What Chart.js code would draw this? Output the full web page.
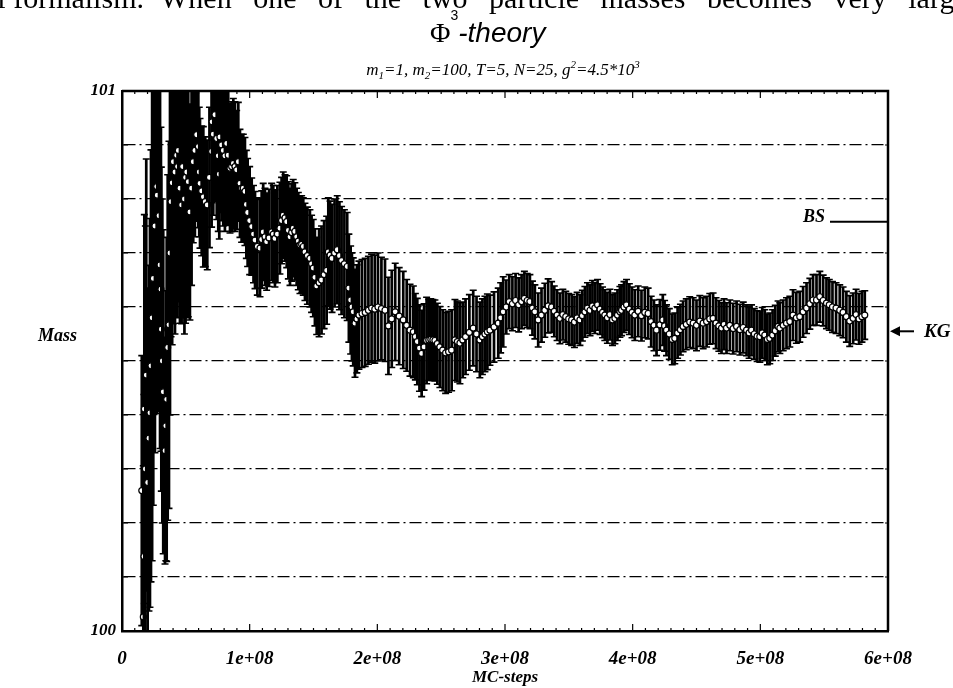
<!doctype html>
<html lang="en">
<head>
<meta charset="utf-8">
<title>Phi^3-theory: Mass vs MC-steps</title>
<script src="https://cdn.jsdelivr.net/npm/chart.js@4.4.0/dist/chart.umd.min.js"></script>
<style>
  html, body { margin: 0; padding: 0; background: #fff; overflow: hidden; }
  #wrap { position: relative; width: 953px; height: 688px; }
  #chart { position: absolute; left: 0; top: 0; }
  .txt { position: absolute; white-space: nowrap; color: #000; }
  .scan { top: -19px; font: 30px 'Liberation Serif', serif; }
  #scan1 { left: -16px; }
  #scan2 { left: 160px; word-spacing: 14px; }
  #title { left: 430px; top: 17px; }
  #title .phi { font: 28px 'Liberation Serif', serif; }
  #title sup { font: 14px 'Liberation Sans', sans-serif; vertical-align: baseline; position: relative; top: -22px; }
  #title .th { font: italic 28px 'Liberation Sans', sans-serif; }
  #sub { left: 0; width: 1006px; text-align: center; top: 58px; font: italic 17px 'Liberation Serif', serif; }
  #sub sub, #sub sup { font-size: 11px; }
  #mass { left: 38px; top: 325px; font: italic bold 18px 'Liberation Serif', serif; }
</style>
</head>
<body>
<div id="wrap">
  <canvas id="chart" width="953" height="688"></canvas>
  <div class="txt scan" id="scan1">al formalism.</div>
  <div class="txt scan" id="scan2">When one of the two particle masses becomes very large</div>
  <div class="txt" id="title"><span class="phi">&Phi;</span><sup>3</sup><span class="th">-theory</span></div>
  <div class="txt" id="sub">m<sub>1</sub>=1, m<sub>2</sub>=100, T=5, N=25, g<sup>2</sup>=4.5*10<sup>3</sup></div>
  <div class="txt" id="mass">Mass</div>
</div>

<script>
// MC steps (in units of 1e6)
var mcSteps = [
  15.5, 16.7, 17.2, 17.5, 18.3, 19.0, 20.1, 21.1, 21.9, 22.7,
  23.6, 24.5, 25.8, 27.2, 27.6, 29.0, 29.8, 30.5, 30.8, 31.6,
  32.3, 33.7, 34.3, 35.0, 35.8, 36.8, 37.6, 38.4, 39.3, 40.2,
  41.5, 42.8, 43.5, 44.1, 45.4, 46.7, 47.5, 48.9, 49.8, 50.7,
  51.9, 53.2, 54.5, 55.8, 57.1, 58.5, 59.8, 60.5, 61.1, 62.4,
  63.7, 65.2, 66.8, 68.5, 70.2, 70.6, 71.5, 72.8, 74.2, 75.4,
  76.2, 76.7, 78.0, 79.3, 80.6, 82.0, 83.2, 84.6, 85.9, 87.2,
  88.5, 89.8, 91.1, 92.4, 93.7, 95.0, 96.3, 97.4, 98.4, 100.0,
  101.6, 103.0, 104.2, 106.0, 108.1, 109.4, 110.6, 112.0, 113.3, 115.2,
  117.2, 118.5, 119.8, 121.7, 123.7, 125.0, 126.3, 127.7, 129.0, 130.3,
  131.6, 132.9, 134.1, 135.4, 136.8, 138.1, 139.4, 140.7, 142.0, 143.3,
  145.2, 147.2, 148.5, 149.8, 151.1, 152.5, 154.4, 156.3, 158.3, 160.3,
  161.6, 163.0, 164.5, 166.5, 168.6, 170.3, 172.0, 174.2, 176.4, 177.7,
  179.1, 180.1, 181.1, 182.5, 184.0, 185.6, 188.0, 190.5, 193.0, 195.5,
  198.0, 200.5, 203.2, 206.0, 208.7, 211.3, 214.0, 217.1, 220.3, 223.0,
  225.6, 228.2, 229.8, 231.3, 233.0, 234.7, 236.6, 238.6, 240.3, 241.9,
  243.5, 245.1, 247.0, 249.0, 251.2, 253.5, 255.8, 258.2, 260.8, 262.7,
  264.7, 266.9, 269.1, 272.1, 275.1, 277.7, 280.3, 282.3, 284.3, 286.2,
  288.2, 291.4, 294.7, 296.6, 298.6, 301.0, 303.3, 305.8, 308.3, 310.7,
  313.0, 315.2, 317.4, 319.5, 321.5, 323.4, 326.0, 328.6, 331.2, 333.8,
  336.5, 338.6, 340.8, 343.0, 345.3, 347.6, 349.9, 352.2, 354.4, 356.5,
  358.7, 360.6, 362.6, 364.6, 366.6, 368.5, 370.4, 372.5, 374.5, 376.4,
  378.2, 380.2, 382.2, 384.2, 386.1, 388.1, 390.0, 391.3, 393.2, 395.2,
  397.4, 399.5, 401.7, 404.3, 406.9, 409.5, 412.1, 414.5, 416.7, 418.7,
  421.3, 423.6, 425.0, 426.5, 428.7, 431.0, 433.0, 435.2, 437.4, 439.5,
  442.0, 444.7, 447.4, 450.0, 452.6, 455.2, 457.9, 460.4, 463.0, 465.3,
  467.5, 469.6, 471.6, 473.5, 476.1, 478.7, 481.4, 484.0, 486.6, 489.2,
  491.2, 493.1, 495.3, 497.5, 499.6, 501.5, 503.5, 505.5, 507.4, 509.6,
  511.7, 513.9, 515.3, 517.9, 520.5, 523.1, 525.6, 528.2, 530.9, 533.5,
  536.2, 538.8, 541.3, 544.0, 546.6, 549.2, 551.8, 554.0, 556.5, 559.3,
  562.2, 564.8, 567.4, 570.0, 572.7, 575.0, 577.3, 579.6, 581.8];

// mass estimate per MC step
var mass = [
  100.260, 100.026, 100.138, 100.411, 100.300, 100.474, 100.275, 100.357, 100.404, 100.491,
  100.580, 100.653, 100.750, 100.823, 100.807, 100.769, 100.678, 100.633, 100.559, 100.500,
  100.443, 100.334, 100.380, 100.429, 100.525, 100.567, 100.700, 100.795, 100.830, 100.869,
  100.850, 100.881, 100.860, 100.890, 100.820, 100.789, 100.860, 100.800, 100.840, 100.850,
  100.832, 100.776, 100.820, 100.869, 100.890, 100.919, 100.897, 100.850, 100.829, 100.815,
  100.804, 100.795, 100.789, 100.840, 100.888, 100.943, 100.920, 100.956, 100.912, 100.880,
  100.846, 100.915, 100.900, 100.890, 100.880, 100.903, 100.881, 100.857, 100.860, 100.866,
  100.860, 100.854, 100.869, 100.829, 100.820, 100.820, 100.814, 100.790, 100.775, 100.760,
  100.749, 100.735, 100.724, 100.712, 100.709, 100.725, 100.739, 100.730, 100.721, 100.728,
  100.739, 100.735, 100.727, 100.735, 100.746, 100.760, 100.770, 100.765, 100.758, 100.742,
  100.730, 100.738, 100.746, 100.740, 100.730, 100.722, 100.715, 100.716, 100.712, 100.702,
  100.695, 100.690, 100.680, 100.672, 100.655, 100.639, 100.645, 100.650, 100.660, 100.668,
  100.702, 100.696, 100.690, 100.700, 100.706, 100.695, 100.686, 100.680, 100.675, 100.635,
  100.613, 100.600, 100.591, 100.570, 100.578, 100.585, 100.588, 100.590, 100.594, 100.598,
  100.596, 100.600, 100.597, 100.594, 100.565, 100.578, 100.591, 100.583, 100.576, 100.566,
  100.557, 100.554, 100.545, 100.536, 100.524, 100.514, 100.526, 100.538, 100.539, 100.540,
  100.539, 100.538, 100.532, 100.526, 100.520, 100.515, 100.517, 100.520, 100.539, 100.536,
  100.533, 100.539, 100.545, 100.553, 100.561, 100.550, 100.539, 100.545, 100.550, 100.554,
  100.557, 100.563, 100.570, 100.580, 100.591, 100.600, 100.610, 100.606, 100.612, 100.604,
  100.610, 100.616, 100.612, 100.610, 100.598, 100.591, 100.576, 100.585, 100.594, 100.602,
  100.600, 100.592, 100.585, 100.579, 100.586, 100.582, 100.578, 100.576, 100.572, 100.580,
  100.576, 100.584, 100.591, 100.598, 100.594, 100.602, 100.598, 100.604, 100.596, 100.590,
  100.585, 100.580, 100.586, 100.576, 100.579, 100.585, 100.591, 100.594, 100.600, 100.604,
  100.596, 100.590, 100.585, 100.592, 100.584, 100.590, 100.588, 100.573, 100.566, 100.557,
  100.567, 100.576, 100.565, 100.557, 100.550, 100.540, 100.542, 100.552, 100.558, 100.564,
  100.568, 100.572, 100.570, 100.566, 100.574, 100.570, 100.573, 100.578, 100.579, 100.570,
  100.565, 100.561, 100.568, 100.561, 100.566, 100.560, 100.564, 100.558, 100.562, 100.557,
  100.552, 100.557, 100.550, 100.546, 100.545, 100.552, 100.548, 100.540, 100.542, 100.548,
  100.556, 100.564, 100.561, 100.566, 100.570, 100.573, 100.585, 100.580, 100.582, 100.591,
  100.598, 100.606, 100.613, 100.613, 100.619, 100.612, 100.607, 100.604, 100.600, 100.598,
  100.594, 100.590, 100.582, 100.574, 100.579, 100.586, 100.578, 100.582, 100.585];

// half length of each error bar
var massErr = [
  0.25, 0.28, 0.30, 0.36, 0.45, 0.40, 0.36, 0.32, 0.36, 0.40,
  0.45, 0.42, 0.42, 0.42, 0.40, 0.36, 0.34, 0.30, 0.30, 0.30,
  0.30, 0.21, 0.25, 0.30, 0.32, 0.34, 0.30, 0.25, 0.30, 0.30,
  0.30, 0.30, 0.28, 0.28, 0.25, 0.22, 0.28, 0.25, 0.27, 0.27,
  0.25, 0.20, 0.18, 0.15, 0.16, 0.16, 0.15, 0.12, 0.12, 0.12,
  0.13, 0.12, 0.12, 0.13, 0.14, 0.15, 0.15, 0.16, 0.15, 0.14,
  0.12, 0.14, 0.14, 0.14, 0.14, 0.15, 0.13, 0.12, 0.12, 0.12,
  0.12, 0.11, 0.11, 0.10, 0.10, 0.10, 0.10, 0.10, 0.10, 0.10,
  0.09, 0.09, 0.09, 0.09, 0.09, 0.09, 0.09, 0.09, 0.09, 0.09,
  0.09, 0.09, 0.09, 0.09, 0.085, 0.08, 0.08, 0.08, 0.085, 0.09,
  0.09, 0.09, 0.09, 0.09, 0.09, 0.09, 0.09, 0.09, 0.09, 0.09,
  0.09, 0.09, 0.09, 0.09, 0.09, 0.09, 0.10, 0.10, 0.10, 0.10,
  0.10, 0.10, 0.10, 0.10, 0.10, 0.10, 0.10, 0.10, 0.10, 0.10,
  0.10, 0.10, 0.10, 0.10, 0.10, 0.10, 0.10, 0.10, 0.10, 0.10,
  0.10, 0.10, 0.095, 0.095, 0.09, 0.09, 0.09, 0.09, 0.09, 0.085,
  0.085, 0.085, 0.08, 0.08, 0.08, 0.08, 0.08, 0.08, 0.075, 0.075,
  0.075, 0.075, 0.075, 0.075, 0.075, 0.075, 0.075, 0.075, 0.075, 0.075,
  0.075, 0.07, 0.07, 0.07, 0.07, 0.07, 0.07, 0.07, 0.07, 0.07,
  0.065, 0.065, 0.065, 0.065, 0.065, 0.05, 0.05, 0.05, 0.05, 0.05,
  0.05, 0.05, 0.05, 0.05, 0.05, 0.05, 0.05, 0.05, 0.05, 0.05,
  0.047, 0.047, 0.047, 0.047, 0.047, 0.047, 0.047, 0.047, 0.047, 0.047,
  0.047, 0.047, 0.047, 0.047, 0.047, 0.047, 0.047, 0.047, 0.047, 0.047,
  0.047, 0.047, 0.047, 0.047, 0.047, 0.047, 0.047, 0.047, 0.047, 0.047,
  0.047, 0.047, 0.047, 0.047, 0.047, 0.047, 0.047, 0.047, 0.047, 0.047,
  0.047, 0.047, 0.047, 0.047, 0.047, 0.047, 0.047, 0.047, 0.047, 0.047,
  0.047, 0.047, 0.047, 0.047, 0.047, 0.047, 0.047, 0.047, 0.047, 0.047,
  0.047, 0.047, 0.047, 0.047, 0.047, 0.047, 0.047, 0.047, 0.047, 0.047,
  0.047, 0.047, 0.047, 0.047, 0.047, 0.047, 0.047, 0.047, 0.047, 0.047,
  0.047, 0.047, 0.047, 0.047, 0.047, 0.047, 0.047, 0.047, 0.047, 0.047,
  0.047, 0.047, 0.047, 0.047, 0.047, 0.047, 0.047, 0.047, 0.047, 0.047,
  0.047, 0.047, 0.047, 0.047, 0.047, 0.047, 0.047, 0.047, 0.045];

// reference levels marked at the right edge
var bsMass = 100.758;
var kgMass = 100.555;

var points = mcSteps.map(function (s, i) { return { x: s * 1e6, y: mass[i] }; });

var tickFont = { family: 'Liberation Serif', size: 17, style: 'italic', weight: 'bold' };

// each point: its error bar first, then its circle (later bars overlap earlier circles)
var errorBars = {
  id: 'errorBars',
  beforeDatasetDraw: function (chart, args) {
    var ctx = chart.ctx, a = chart.chartArea, x = chart.scales.x, y = chart.scales.y;
    var pts = args.meta.data;
    ctx.save();
    ctx.beginPath();
    ctx.rect(a.left, a.top, a.right - a.left, a.bottom - a.top);
    ctx.clip();
    for (var i = 0; i < mcSteps.length; i++) {
      var px = x.getPixelForValue(mcSteps[i] * 1e6);
      var lo = y.getPixelForValue(mass[i] - massErr[i]);
      var hi = y.getPixelForValue(mass[i] + massErr[i]);
      ctx.strokeStyle = '#000';
      ctx.lineWidth = 2.7;
      ctx.beginPath();
      ctx.moveTo(px, lo); ctx.lineTo(px, hi);
      ctx.stroke();
      ctx.lineWidth = 1.6;
      ctx.beginPath();
      ctx.moveTo(px - 3.5, lo); ctx.lineTo(px + 3.5, lo);
      ctx.moveTo(px - 3.5, hi); ctx.lineTo(px + 3.5, hi);
      ctx.stroke();
      if (pts[i]) pts[i].draw(ctx, a);
    }
    ctx.restore();
    return false;
  }
};

// box, inward ticks and the BS / KG marks
var frame = {
  id: 'frame',
  afterDraw: function (chart) {
    var ctx = chart.ctx, a = chart.chartArea, x = chart.scales.x, y = chart.scales.y;
    ctx.save();
    ctx.strokeStyle = '#000';
    ctx.lineWidth = 2.5;
    ctx.beginPath();
    ctx.moveTo(a.left, a.top); ctx.lineTo(a.right, a.top); ctx.lineTo(a.right, a.bottom);
    ctx.stroke();

    ctx.lineWidth = 1.2;
    ctx.beginPath();
    for (var v = 0; v <= 6e8 + 1; v += 1e7) {
      var px = x.getPixelForValue(v);
      var len = (Math.round(v / 1e7) % 10 === 0) ? 7 : 3;
      ctx.moveTo(px, a.bottom); ctx.lineTo(px, a.bottom - len);
      ctx.moveTo(px, a.top); ctx.lineTo(px, a.top + len);
    }
    y.ticks.forEach(function (t) {
      var py = y.getPixelForValue(t.value);
      ctx.moveTo(a.left, py); ctx.lineTo(a.left + 6, py);
      ctx.moveTo(a.right, py); ctx.lineTo(a.right - 3, py);
    });
    ctx.stroke();

    // BS line
    var bsY = y.getPixelForValue(bsMass);
    ctx.lineWidth = 2;
    ctx.beginPath();
    ctx.moveTo(a.right - 58, bsY); ctx.lineTo(a.right, bsY);
    ctx.stroke();
    ctx.font = 'italic bold 18px "Liberation Serif"';
    ctx.fillStyle = '#000';
    ctx.textAlign = 'right';
    ctx.textBaseline = 'alphabetic';
    ctx.fillText('BS', a.right - 63, bsY);

    // KG arrow
    var kgY = y.getPixelForValue(kgMass);
    ctx.beginPath();
    ctx.moveTo(a.right + 26, kgY); ctx.lineTo(a.right + 8, kgY);
    ctx.stroke();
    ctx.beginPath();
    ctx.moveTo(a.right + 2, kgY); ctx.lineTo(a.right + 12, kgY - 5); ctx.lineTo(a.right + 12, kgY + 5);
    ctx.closePath();
    ctx.fill();
    ctx.font = 'italic bold 19px "Liberation Serif"';
    ctx.textAlign = 'left';
    ctx.textBaseline = 'middle';
    ctx.fillText('KG', a.right + 36, kgY + 1);
    ctx.restore();
  }
};

new Chart(document.getElementById('chart').getContext('2d'), {
  type: 'scatter',
  data: {
    datasets: [{
      data: points,
      pointRadius: 3,
      pointBackgroundColor: '#fff',
      pointBorderColor: '#000',
      pointBorderWidth: 1.2
    }]
  },
  options: {
    responsive: false,
    animation: false,
    events: [],
    layout: { padding: { top: 91, right: 65, left: 0, bottom: 0 } },
    plugins: { legend: { display: false }, tooltip: { enabled: false } },
    scales: {
      x: {
        type: 'linear',
        min: 0,
        max: 6e8,
        afterFit: function (s) { s.height = 57; },
        grid: { display: false },
        border: { display: true, color: '#000', width: 2.5 },
        ticks: {
          stepSize: 1e8,
          padding: 9,
          color: '#000',
          font: { family: 'Liberation Serif', size: 19, style: 'italic', weight: 'bold' },
          maxRotation: 0,
          callback: function (v) { return v === 0 ? '0' : Math.round(v / 1e8) + 'e+08'; }
        },
        title: {
          display: true,
          text: 'MC-steps',
          color: '#000',
          font: { family: 'Liberation Serif', size: 17, style: 'italic', weight: 'bold' },
          padding: { top: 0, bottom: 0 }
        }
      },
      y: {
        min: 100,
        max: 101,
        afterFit: function (s) { s.width = 122; },
        grid: {
          drawTicks: false,
          lineWidth: 1.3,
          color: function (c) { return (c.index === 0 || c.index === 10) ? 'rgba(0,0,0,0)' : '#000'; }
        },
        border: { display: true, color: '#000', width: 2.5, dash: [12, 4, 2, 4] },
        ticks: {
          stepSize: 0.1,
          padding: 6,
          color: '#000',
          font: tickFont,
          autoSkip: false,
          callback: function (v, i, t) { return (i === 0 || i === t.length - 1) ? String(Math.round(v)) : ''; }
        }
      }
    }
  },
  plugins: [errorBars, frame]
});
</script>
</body>
</html>
